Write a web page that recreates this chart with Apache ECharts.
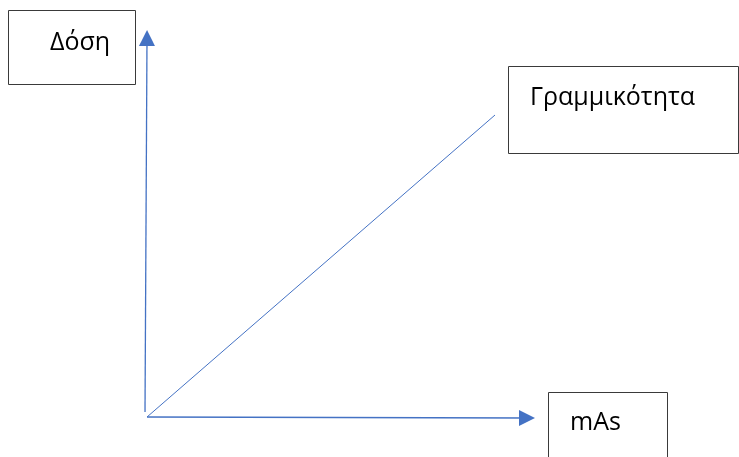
<!DOCTYPE html>
<html>
<head>
<meta charset="utf-8">
<script src="https://cdn.jsdelivr.net/npm/echarts@6/dist/echarts.min.js"></script>
<style>
  html, body { margin: 0; padding: 0; background: #fff; }
  #chart { width: 739px; height: 457px; }
</style>
</head>
<body>
<div id="chart"></div>
<script>
  // axis arrows and the linear relation, origin at the axis crossing
  const xArrow = [[0, 0], [380, -1]]
  const yArrow = [[-2, 5], [0, 379]]
  const linearity = [[0, 0], [348, 302]]

  // label boxes
  const boxLabels = ['Δόση', 'Γραμμικότητα', 'mAs']
  const boxLeft = [-139, 361, 401]
  const boxRight = [-12, 591, 520]
  const boxTop = [407, 351, 25]
  const boxBottom = [333, 264, -53]
  const textX = [-97, 383, 423]
  const textY = [374, 319, -6]

  const blue = '#4472C4'
  const chart = echarts.init(document.getElementById('chart'))

  const boxData = boxLabels.map((label, i) => [boxLeft[i], boxTop[i], boxRight[i], boxBottom[i], textX[i], textY[i], label])

  chart.setOption({
    animation: false,
    grid: { left: 0, right: 0, top: 0, bottom: 0 },
    xAxis: { type: 'value', min: -147, max: 592, show: false },
    yAxis: { type: 'value', min: -40, max: 417, show: false },
    series: [
      {
        type: 'custom',
        renderItem(params, api) {
          const p1 = api.coord([api.value(0), api.value(1)])
          const p2 = api.coord([api.value(2), api.value(3)])
          const t = api.coord([api.value(4), api.value(5)])
          return {
            type: 'group',
            children: [
              {
                type: 'rect',
                shape: { x: p1[0] + 0.5, y: p1[1] + 0.5, width: p2[0] - p1[0], height: p2[1] - p1[1] },
                style: { fill: '#fff', stroke: '#3a3a3a', lineWidth: 1 }
              },
              {
                type: 'text',
                x: t[0],
                y: t[1],
                style: {
                  text: boxLabels[params.dataIndex],
                  fill: '#000',
                  font: '25px "Open Sans", "Noto Sans", sans-serif',
                  verticalAlign: 'middle',
                  align: 'left'
                }
              }
            ]
          }
        },
        data: boxData
      },
      {
        type: 'lines',
        coordinateSystem: 'cartesian2d',
        symbol: ['none', 'triangle'],
        symbolSize: 16,
        lineStyle: { color: blue, width: 1.3, opacity: 1 },
        itemStyle: { color: blue },
        data: [{ coords: xArrow }, { coords: yArrow }]
      },
      {
        type: 'line',
        data: linearity,
        symbol: 'none',
        lineStyle: { color: blue, width: 1 }
      }
    ]
  })
</script>
</body>
</html>
